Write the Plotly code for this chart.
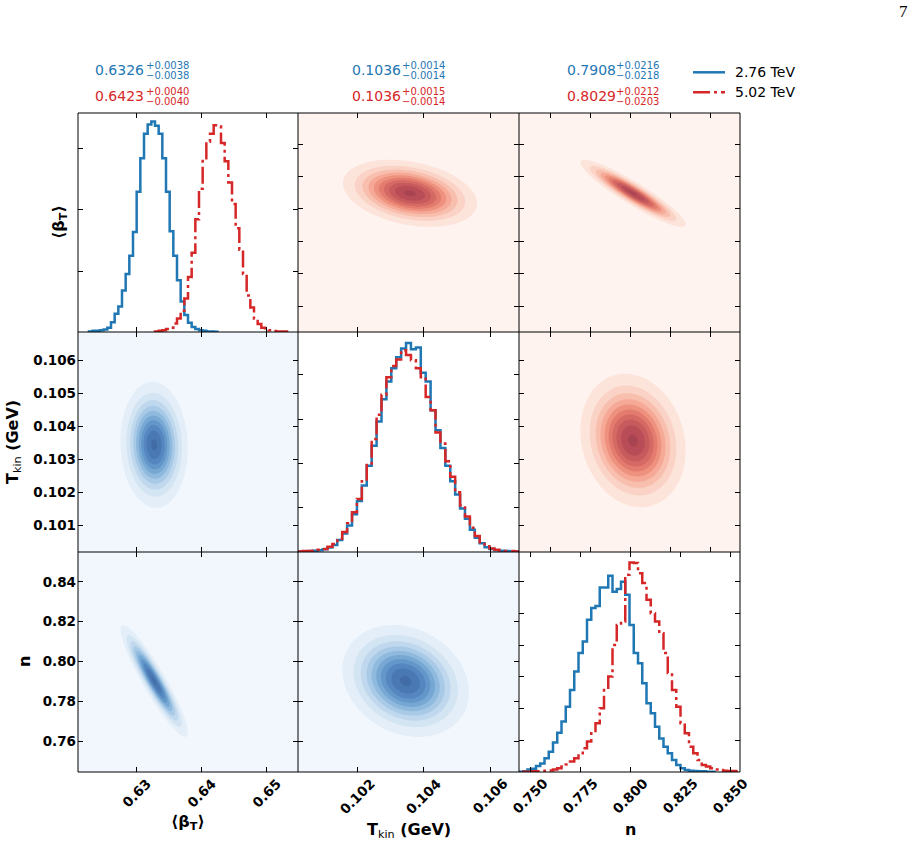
import numpy as np
import plotly.graph_objects as go

W, H = 918, 845

# ---------------- data ----------------
BETA_RANGE = [0.6210, 0.6548]
TKIN_RANGE = [0.10020, 0.10687]
N_RANGE = [0.7445, 0.8550]
BETA_BINS = 60
TKIN_BINS = 45
N_BINS = 52

beta_hist_276 = [0, 0, 0, 0.01, 0.02, 0.02, 0.03, 0.04, 0.07, 0.16,
                 0.30, 0.42, 0.68, 0.95, 1.25, 1.64, 2.30, 2.85, 3.25, 3.40,
                 3.45, 3.38, 3.25, 2.85, 2.30, 1.65, 1.25, 0.85, 0.50, 0.28,
                 0.15, 0.08, 0.05, 0.03, 0.02, 0.01, 0.01, 0.005, 0, 0,
                 0, 0, 0, 0, 0, 0, 0, 0, 0, 0,
                 0, 0, 0, 0, 0, 0, 0, 0, 0, 0]
beta_hist_502 = [0, 0, 0, 0, 0, 0, 0, 0, 0, 0,
                 0, 0, 0, 0, 0, 0, 0, 0, 0, 0,
                 0, 0.01, 0.02, 0.03, 0.05, 0.07, 0.14, 0.22, 0.35, 0.55,
                 0.90, 1.30, 1.85, 2.35, 2.85, 3.12, 3.25, 3.39, 3.37, 3.10,
                 2.80, 2.45, 2.10, 1.70, 1.35, 0.95, 0.60, 0.40, 0.22, 0.13,
                 0.07, 0.04, 0.03, 0.015, 0.01, 0.01, 0.01, 0, 0, 0]
tkin_hist_276 = [0.01, 0.01, 0.02, 0.03, 0.04, 0.06, 0.10, 0.16, 0.27, 0.42,
                 0.60, 0.85, 1.15, 1.50, 1.95, 2.40, 2.95, 3.45, 3.85, 4.15,
                 4.40, 4.60, 4.72, 4.58, 4.62, 4.05, 3.85, 3.20, 2.75, 2.35,
                 1.95, 1.60, 1.30, 0.98, 0.75, 0.50, 0.32, 0.20, 0.11, 0.07,
                 0.04, 0.03, 0.02, 0.01, 0.01]
tkin_hist_502 = [0.01, 0.02, 0.02, 0.03, 0.05, 0.07, 0.12, 0.18, 0.30, 0.45,
                 0.65, 0.90, 1.20, 1.60, 2.00, 2.55, 3.10, 3.55, 3.95, 4.20,
                 4.35, 4.56, 4.45, 4.33, 4.15, 3.95, 3.50, 3.20, 2.70, 2.45,
                 2.05, 1.70, 1.35, 1.05, 0.80, 0.55, 0.36, 0.22, 0.13, 0.08,
                 0.05, 0.03, 0.02, 0.02, 0.01]
n_hist_276 = [0.01, 0.02, 0.08, 0.10, 0.19, 0.27, 0.43, 0.64, 0.93, 1.24,
              1.59, 2.06, 2.59, 3.17, 3.75, 4.12, 4.80, 5.17, 5.24, 5.82,
              5.82, 6.19, 5.69, 5.77, 6.00, 5.59, 4.64, 3.75, 3.43, 2.80,
              2.17, 1.85, 1.43, 1.06, 0.80, 0.59, 0.38, 0.22, 0.12, 0.06,
              0.04, 0.03, 0.02, 0.02, 0.01, 0.01, 0, 0, 0, 0,
              0, 0]
n_hist_502 = [0, 0.01, 0.01, 0.02, 0.02, 0.03, 0.04, 0.05, 0.08, 0.12,
              0.17, 0.24, 0.33, 0.43, 0.59, 0.75, 0.96, 1.22, 1.54, 2.01,
              2.59, 3.01, 4.01, 4.64, 4.75, 6.22, 6.61, 6.59, 6.27, 5.96,
              5.43, 5.01, 4.75, 4.38, 3.75, 3.12, 2.59, 2.06, 1.54, 1.22,
              0.80, 0.59, 0.38, 0.22, 0.17, 0.12, 0.08, 0.06, 0.04, 0.03,
              0.03, 0.02]

# 2D posterior shapes (centre, spread, correlation)
center_276 = [0.6327, 0.10345, 0.7902]
spread_276 = [0.0023, 0.00085, 0.0125]
rho_276 = {(0, 1): -0.05, (0, 2): -0.92, (1, 2): -0.20}
center_502 = [0.6424, 0.10358, 0.8015]
spread_502 = [0.0023, 0.00090, 0.0117]
rho_502 = {(0, 1): -0.30, (0, 2): -0.92, (1, 2): -0.15}

# quoted results
mean_276 = [0.6326, 0.1036, 0.7908]
up_276 = [0.0038, 0.0014, 0.0216]
dn_276 = [0.0038, 0.0014, 0.0218]
mean_502 = [0.6423, 0.1036, 0.8029]
up_502 = [0.0040, 0.0015, 0.0212]
dn_502 = [0.0040, 0.0014, 0.0203]
series_names = ["2.76 TeV", "5.02 TeV"]

# ticks
beta_xticks = [0.63, 0.64, 0.65]
beta_xlabels = ["0.63", "0.64", "0.65"]
beta_yticks = [0.625, 0.630, 0.635, 0.640, 0.645, 0.650]
tkin_xticks = [0.102, 0.104, 0.106]
tkin_xlabels = ["0.102", "0.104", "0.106"]
tkin_yticks = [0.101, 0.102, 0.103, 0.104, 0.105, 0.106]
tkin_ylabels = ["0.101", "0.102", "0.103", "0.104", "0.105", "0.106"]
n_xticks = [0.750, 0.775, 0.800, 0.825, 0.850]
n_xlabels = ["0.750", "0.775", "0.800", "0.825", "0.850"]
n_yticks = [0.76, 0.78, 0.80, 0.82, 0.84]
n_ylabels = ["0.76", "0.78", "0.80", "0.82", "0.84"]
hist_yticks = [[1, 2, 3], [1, 2, 3, 4], [1, 2, 3, 4, 5, 6]]
hist_ymax = [3.59, 4.97, 6.94]

# ---------------- styling ----------------
BLUE = "#1f77b4"
RED = "#d62728"
BLUE_BANDS = ['#f2f7fd', '#e3eef8', '#d3e4f3', '#c0d8ee', '#a8cae6', '#8fbade',
              '#77a8d4', '#6497c9', '#5586bf', '#4a78b3', '#416ca6']
RED_BANDS = ['#fef3ef', '#fde4db', '#fbd3c6', '#f9bfae', '#f5a996', '#ee927f',
             '#e37c6e', '#d56963', '#c75a5c', '#b84d57', '#a84451']
DASHDOT = "17px,4px,3px,4px"
COLS = [(78, 298), (298, 519), (519, 740)]
ROWS = [(113, 332), (332, 552), (552, 772)]

RANGES = [BETA_RANGE, TKIN_RANGE, N_RANGE]
BINS = [BETA_BINS, TKIN_BINS, N_BINS]
HISTS = [(beta_hist_276, beta_hist_502), (tkin_hist_276, tkin_hist_502),
         (n_hist_276, n_hist_502)]
BOTTOM_TICKS = [(beta_xticks, beta_xlabels), (tkin_xticks, tkin_xlabels),
                (n_xticks, n_xlabels)]


def px_x(x):
    return x / W


def px_y(y):
    return 1 - y / H


def step_xy(edges, vals):
    nz = [i for i, v in enumerate(vals) if v > 0]
    i0, i1 = nz[0], nz[-1]
    xs = [edges[i0]]
    ys = [0]
    for i in range(i0, i1 + 1):
        xs.append(edges[i])
        ys.append(vals[i])
    xs.append(edges[i1 + 1])
    ys.append(vals[i1])
    xs.append(edges[i1 + 1])
    ys.append(0)
    return xs, ys


def gauss_grid(ix, iy, center, spread, rho):
    key = (min(ix, iy), max(ix, iy))
    r = rho[key]
    gx = np.linspace(RANGES[ix][0], RANGES[ix][1], 150)
    gy = np.linspace(RANGES[iy][0], RANGES[iy][1], 150)
    X, Y = np.meshgrid(gx, gy)
    dx = (X - center[ix]) / spread[ix]
    dy = (Y - center[iy]) / spread[iy]
    q = (dx ** 2 - 2 * r * dx * dy + dy ** 2) / (1 - r ** 2)
    return gx, gy, np.exp(-0.5 * q)


def band_scale(colors):
    n = len(colors) - 1
    return [[i / n, c] for i, c in enumerate(colors)]


fig = go.Figure()
layout_axes = {}
tickfont = dict(family="DejaVu Sans", size=13.5, color="black", weight="bold")
common = dict(showline=False, mirror="ticks",
              ticks="inside", ticklen=5, tickwidth=1, tickcolor="black",
              showgrid=False, zeroline=False, fixedrange=True, tickfont=tickfont)
ann = []

for r in range(3):
    for c in range(3):
        idx = r * 3 + c + 1
        sfx = "" if idx == 1 else str(idx)
        xref, yref = "x" + sfx, "y" + sfx
        if r == c:
            edges = np.linspace(RANGES[c][0], RANGES[c][1], BINS[c] + 1)
            for vals, col, dash in [(HISTS[c][0], BLUE, "solid"), (HISTS[c][1], RED, DASHDOT)]:
                xs, ys = step_xy(edges, vals)
                fig.add_trace(go.Scatter(x=xs, y=ys, mode="lines", line_shape="hv",
                                         line=dict(color=col, width=2.5, dash=dash),
                                         xaxis=xref, yaxis=yref, showlegend=False,
                                         hoverinfo="skip"))
        else:
            if r > c:
                gx, gy, z = gauss_grid(c, r, center_276, spread_276, rho_276)
                bands = BLUE_BANDS
            else:
                gx, gy, z = gauss_grid(c, r, center_502, spread_502, rho_502)
                bands = RED_BANDS
            fig.add_trace(go.Contour(x=gx, y=gy, z=z, xaxis=xref, yaxis=yref,
                                     contours=dict(start=0.08, end=0.985, size=0.1,
                                                   coloring="fill", showlines=False),
                                     line=dict(width=0), colorscale=band_scale(bands),
                                     showscale=False, hoverinfo="skip"))
        # x axis ticks
        if c == 2 and r != 2:
            xt = n_yticks
        else:
            xt = BOTTOM_TICKS[c][0]
        xa = dict(common, domain=[px_x(COLS[c][0]), px_x(COLS[c][1])],
                  anchor=yref, range=RANGES[c], tickmode="array",
                  tickvals=xt, showticklabels=False)
        # rotated tick labels on the bottom row, centred on their ticks
        if r == 2:
            for tv, tl in zip(*BOTTOM_TICKS[c]):
                nchar = len(tl)
                yc = 777 + (nchar * 8.6 + 10) * 0.3535 + 0.5
                ann.append(dict(x=tv, y=px_y(yc), xref=xref, yref="paper",
                                xanchor="center", yanchor="middle", showarrow=False,
                                text=tl, textangle=-45, font=tickfont))
        # y axis
        if r == c:
            yt, yl, yr = hist_yticks[r], [str(v) for v in hist_yticks[r]], [0, hist_ymax[r]]
        elif r == 0:
            yt, yl, yr = beta_yticks, [str(v) for v in beta_yticks], BETA_RANGE
        elif r == 1:
            yt, yl, yr = tkin_yticks, tkin_ylabels, TKIN_RANGE
        else:
            yt, yl, yr = n_yticks, n_ylabels, N_RANGE
        ya = dict(common, domain=[px_y(ROWS[r][1]), px_y(ROWS[r][0])],
                  anchor=xref, range=yr, tickmode="array", tickvals=yt,
                  ticktext=yl, showticklabels=(c == 0 and r > 0),
                  ticklabelstandoff=1)
        layout_axes["xaxis" + sfx] = xa
        layout_axes["yaxis" + sfx] = ya

fig.update_layout(**layout_axes)

shapes = []
# panel frames drawn once, crisp 1px
grid_x = [COLS[0][0], COLS[1][0], COLS[2][0], COLS[2][1]]
grid_y = [ROWS[0][0], ROWS[1][0], ROWS[2][0], ROWS[2][1]]
for gxp in grid_x:
    shapes.append(dict(type="line", xref="paper", yref="paper",
                       x0=px_x(gxp), x1=px_x(gxp), y0=px_y(grid_y[0]), y1=px_y(grid_y[-1]),
                       line=dict(color="black", width=1)))
for gyp in grid_y:
    shapes.append(dict(type="line", xref="paper", yref="paper",
                       x0=px_x(grid_x[0]), x1=px_x(grid_x[-1]), y0=px_y(gyp), y1=px_y(gyp),
                       line=dict(color="black", width=1)))

# quoted values above each column
val_x = [93, 349.7, 564.7]
sup_x = [144, 399.7, 614]
for c in range(3):
    for (m, u, d, col, ym) in [(mean_276[c], up_276[c], dn_276[c], BLUE, 70),
                               (mean_502[c], up_502[c], dn_502[c], RED, 96)]:
        ann.append(dict(x=px_x(val_x[c]), y=px_y(ym), xref="paper", yref="paper",
                        xanchor="left", yanchor="middle", showarrow=False,
                        text=f"{m:.4f}", font=dict(family="DejaVu Sans", size=14, color=col)))
        ann.append(dict(x=px_x(sup_x[c]), y=px_y(ym - 4.6), xref="paper", yref="paper",
                        xanchor="left", yanchor="middle", showarrow=False,
                        text=f"+{u:.4f}", font=dict(family="DejaVu Sans", size=10, color=col)))
        ann.append(dict(x=px_x(sup_x[c]), y=px_y(ym + 5), xref="paper", yref="paper",
                        xanchor="left", yanchor="middle", showarrow=False,
                        text=f"\u2212{d:.4f}", font=dict(family="DejaVu Sans", size=10, color=col)))

# legend
for k, (col, dash, ly) in enumerate([(BLUE, "solid", 72.3), (RED, DASHDOT, 92.3)]):
    shapes.append(dict(type="line", xref="paper", yref="paper",
                       x0=px_x(693), x1=px_x(725), y0=px_y(ly), y1=px_y(ly),
                       line=dict(color=col, width=2.5, dash=dash)))
    ann.append(dict(x=px_x(733), y=px_y(ly), xref="paper", yref="paper",
                    xanchor="left", yanchor="middle", showarrow=False,
                    text=series_names[k],
                    font=dict(family="DejaVu Sans", size=14, color="black")))

# axis titles
title_font = dict(family="DejaVu Sans", size=16, color="black")
x_titles = ["<b>\u27e8\u03b2<sub>T</sub>\u27e9</b>",
            "<b>T</b><sub>kin</sub><b> (GeV)</b>",
            "<b>n</b>"]
x_title_pos = [(188, 822), (409, 830), (630, 829)]
for t, (xx, yy) in zip(x_titles, x_title_pos):
    ann.append(dict(x=px_x(xx), y=px_y(yy), xref="paper", yref="paper",
                    xanchor="center", yanchor="middle", showarrow=False,
                    text=t, font=title_font))
y_title_pos = [(60, 222), (13, 442), (24, 662)]
for t, (xx, yy) in zip(x_titles, y_title_pos):
    ann.append(dict(x=px_x(xx), y=px_y(yy), xref="paper", yref="paper",
                    xanchor="center", yanchor="middle", showarrow=False,
                    text=t, textangle=-90, font=title_font))

# page number
ann.append(dict(x=px_x(903), y=px_y(11), xref="paper", yref="paper",
                xanchor="center", yanchor="middle", showarrow=False, text="7",
                font=dict(family="Liberation Serif", size=17, color="black")))

fig.update_layout(width=W, height=H, margin=dict(l=0, r=0, t=0, b=0),
                  paper_bgcolor="white", plot_bgcolor="white",
                  showlegend=False, annotations=ann, shapes=shapes)

fig.write_html("out.html")
